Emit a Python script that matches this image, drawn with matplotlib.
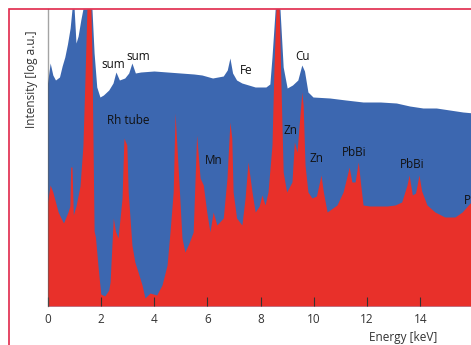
import matplotlib
matplotlib.use('agg')
import matplotlib.pyplot as plt
from matplotlib.patches import Rectangle

plt.rcParams['font.family'] = ['Open Sans', 'DejaVu Sans']

# blue spectrum (upper), energy in keV, intensity in arbitrary log units
blue_e = [0.0, 0.1, 0.2, 0.3, 0.45, 0.55, 0.65, 0.75, 0.85, 0.92,
          1.0, 1.07, 1.15, 1.25, 1.33, 1.67, 1.75, 1.85, 1.97, 2.1,
          2.3, 2.46, 2.57, 2.7, 2.9, 3.05, 3.17, 3.3, 3.5, 4.0,
          4.5, 5.0, 5.5, 5.8, 6.2, 6.6, 6.75, 6.85, 6.95, 7.1,
          7.3, 7.8, 8.2, 8.35, 8.43, 8.55, 8.73, 8.85, 9.0, 9.2,
          9.4, 9.55, 9.65, 9.78, 9.97, 10.6, 11.2, 11.85, 12.5, 13.1,
          13.6, 14.1, 14.6, 15.1, 15.6, 16.0]
blue_h = [223, 243, 231, 226, 229, 240, 249, 262, 278, 297,
          297, 263, 270, 286, 297, 297, 253, 219, 209, 211,
          216, 223, 234, 226, 228, 233, 243, 233, 234, 235,
          234, 233, 232, 231, 228, 230, 236, 248, 233, 226,
          223, 219, 219, 222, 249, 297, 297, 239, 218, 221,
          226, 241, 235, 214, 209, 208, 206, 204, 204, 203,
          200, 198, 198, 196, 194, 193]

# red spectrum (front)
red_e = [0.0, 0.1, 0.2, 0.4, 0.6, 0.77, 0.84, 0.87, 0.92, 0.97,
         1.07, 1.22, 1.33, 1.41, 1.48, 1.63, 1.67, 1.75, 1.8, 1.9,
         2.0, 2.15, 2.3, 2.35, 2.47, 2.55, 2.65, 2.8, 2.87, 2.98,
         3.03, 3.17, 3.28, 3.4, 3.55, 3.66, 3.85, 4.1, 4.3, 4.49,
         4.6, 4.72, 4.79, 4.9, 5.05, 5.16, 5.3, 5.47, 5.6, 5.73,
         5.85, 5.98, 6.1, 6.22, 6.36, 6.6, 6.74, 6.85, 6.92, 6.97,
         7.1, 7.3, 7.42, 7.53, 7.68, 7.8, 7.95, 8.05, 8.17, 8.28,
         8.43, 8.5, 8.58, 8.7, 8.77, 8.85, 8.98, 9.18, 9.27, 9.37,
         9.48, 9.55, 9.6, 9.67, 9.78, 9.93, 10.1, 10.27, 10.36, 10.5,
         10.87, 11.1, 11.23, 11.33, 11.43, 11.55, 11.67, 11.75, 11.85, 12.1,
         12.75, 13.05, 13.3, 13.5, 13.58, 13.7, 13.82, 13.95, 14.05, 14.25,
         14.55, 14.92, 15.3, 15.57, 15.87, 16.0]
red_h = [104, 121, 114, 94, 83, 94, 100, 139, 139, 91,
         100, 120, 160, 230, 297, 297, 250, 75, 69, 39,
         12, 10, 16, 24, 88, 75, 68, 108, 168, 161,
         114, 61, 44, 34, 21, 8, 13, 11, 21, 41,
         74, 114, 193, 141, 68, 54, 62, 74, 171, 128,
         121, 94, 74, 94, 81, 88, 128, 184, 168, 114,
         88, 81, 108, 144, 114, 94, 100, 111, 101, 114,
         161, 234, 297, 297, 218, 134, 114, 124, 164, 154,
         191, 214, 201, 141, 114, 108, 110, 131, 114, 94,
         101, 114, 128, 139, 124, 124, 144, 124, 101, 100,
         100, 101, 104, 121, 131, 111, 113, 131, 115, 101,
         94, 89, 89, 94, 103, 103]

# peak labels
lab_text = ['sum', 'sum', 'Rh tube', 'Mn', 'Fe', 'Cu', 'Zn', 'Zn', 'PbBi', 'PbBi', 'PbBi']
lab_x = [2.46, 3.40, 3.02, 6.25, 7.45, 9.59, 9.14, 10.12, 11.51, 13.69, 15.64]
lab_y = [242, 249, 185, 145, 236, 250, 175, 147, 153, 142, 106]

W, H = 471, 345
fig = plt.figure(figsize=(W / 100, H / 100), dpi=100)
ax = fig.add_axes([47.5 / W, 39 / H, (W - 47.5) / W, 297 / H])

ax.fill_between(blue_e, 0, blue_h, color='#3c67b0', lw=0)
ax.fill_between(red_e, 0, red_h, color='#e8302a', lw=0)

ax.set_xlim(0, (W - 47.5) / 26.63)
ax.set_ylim(0, 297)

for t, x, y in zip(lab_text, lab_x, lab_y):
    ha = 'left' if x > 15 else 'center'
    ax.text(x, y, t, fontsize=8.5, ha=ha, va='center', color='#111111', clip_on=False)

ax.set_xticks([0, 2, 4, 6, 8, 10, 12, 14])
ax.set_yticks([])
ax.tick_params(axis='x', direction='in', length=6.5, width=0.8, color='#333333',
               pad=5, labelsize=8.5, labelcolor='#333333')
for s in ['top', 'right', 'bottom']:
    ax.spines[s].set_visible(False)
ax.spines['left'].set_color((0.35, 0.35, 0.35, 0.55))
ax.spines['left'].set_linewidth(1.0)

fig.text(403 / W, 1 - 337 / H, 'Energy [keV]', fontsize=8.5, ha='center', va='center', color='#333333')
fig.text(31 / W, 1 - 79 / H, 'Intensity [log a.u.]', fontsize=8.5, ha='center', va='center',
         rotation=90, color='#333333')

# frame of the figure (cut off on right and bottom)
fig.patches.append(Rectangle((8.5 / W, -0.2), 2, 1.2 - 8.5 / H, transform=fig.transFigure,
                             fill=False, edgecolor='#e0284a', lw=1.2))

fig.savefig('out.png', dpi=100)
